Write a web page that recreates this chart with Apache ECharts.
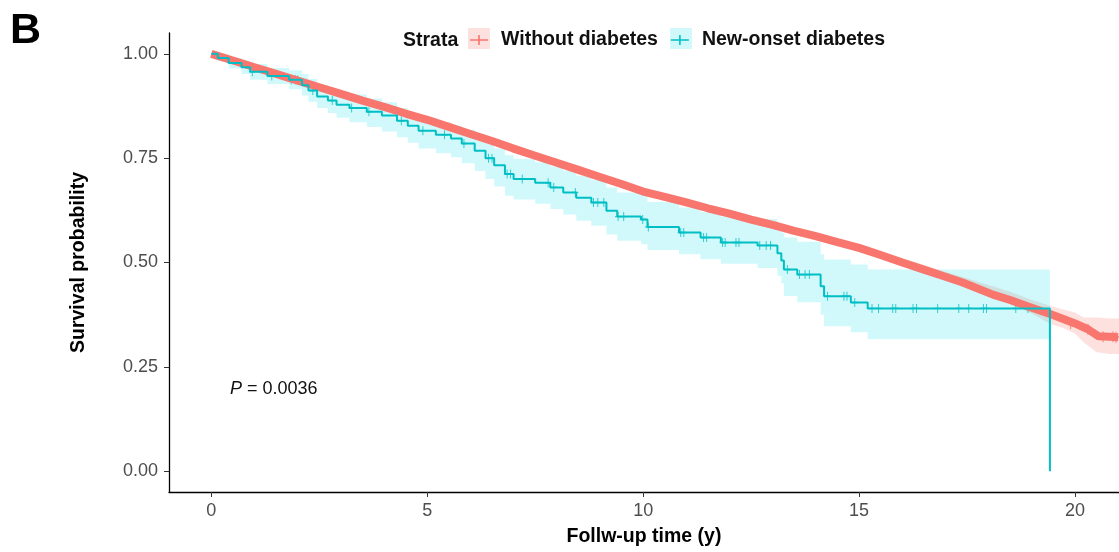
<!DOCTYPE html>
<html>
<head>
<meta charset="utf-8">
<script src="https://cdn.jsdelivr.net/npm/echarts@6/dist/echarts.min.js"></script>
<style>
  html, body { margin: 0; padding: 0; background: #fff; }
  #main { width: 1119px; height: 552px; }
</style>
</head>
<body>
<div id="main"></div>
<script>
// tick labels
const xTicks = [0, 5, 10, 15, 20];
const yTicks = [0, 0.25, 0.5, 0.75, 1];

// Without diabetes: survival curve
const redT = [0, 0.5, 1, 1.5, 2, 2.5, 3, 3.5, 4, 4.5, 5, 5.5, 6, 6.5, 7, 7.5, 8, 8.5, 9, 9.5, 10,
  10.5, 11, 11.5, 12, 12.5, 13, 13.5, 14, 14.5, 15, 15.5, 16, 16.5, 17, 17.4, 18.1, 18.5, 18.9,
  19.44, 19.7, 20.0, 20.3, 20.55, 20.8, 21.0];
const redS = [1.0, 0.984, 0.968, 0.952, 0.936, 0.920, 0.904, 0.888, 0.873, 0.857, 0.842, 0.825,
  0.808, 0.791, 0.773, 0.756, 0.739, 0.722, 0.705, 0.688, 0.670, 0.657, 0.644, 0.630, 0.617,
  0.603, 0.590, 0.576, 0.563, 0.549, 0.535, 0.518, 0.500, 0.483, 0.466, 0.452, 0.423, 0.410,
  0.395, 0.376, 0.366, 0.354, 0.340, 0.323, 0.322, 0.321];
// Without diabetes: confidence band
const redBandT = [0, 5, 10, 15, 17, 18, 18.5, 19, 19.44, 19.7, 20.0, 20.2, 20.5, 20.8, 21.02];
const redBandLo = [1.0, 0.835, 0.662, 0.526, 0.458, 0.420, 0.400, 0.378, 0.352, 0.344, 0.330, 0.309, 0.285, 0.281, 0.281];
const redBandHi = [1.0, 0.849, 0.678, 0.544, 0.478, 0.446, 0.430, 0.410, 0.396, 0.388, 0.380, 0.368, 0.368, 0.366, 0.366];
// Without diabetes: censor marks at the tail
const redCensT = [19.9, 20.3, 20.65, 20.88, 20.95];
const redCensS = [0.354, 0.340, 0.322, 0.322, 0.321];

// New-onset diabetes: KM steps
const tealT = [0, 0.15, 0.4, 0.7, 0.9, 1.3, 1.8, 2.1, 2.25, 2.45, 2.7, 2.9, 3.2, 3.6, 3.95, 4.3,
  4.55, 4.8, 5.2, 5.55, 5.8, 6.1, 6.35, 6.55, 6.8, 7.0, 7.5, 7.85, 8.15, 8.45, 8.8, 9.15, 9.4,
  9.95, 10.1, 10.83, 11.33, 11.8, 12.65, 13.11, 13.2, 13.26, 13.57, 14.11, 14.19, 14.81, 15.2, 19.42];
const tealS = [1.0, 0.990, 0.978, 0.968, 0.957, 0.947, 0.938, 0.925, 0.912, 0.898, 0.888, 0.878,
  0.870, 0.861, 0.852, 0.840, 0.828, 0.816, 0.806, 0.797, 0.785, 0.768, 0.750, 0.733, 0.712,
  0.700, 0.691, 0.680, 0.668, 0.655, 0.644, 0.624, 0.610, 0.603, 0.585, 0.572, 0.560, 0.548,
  0.541, 0.522, 0.505, 0.483, 0.471, 0.443, 0.419, 0.404, 0.390, 0.0];
// New-onset diabetes: confidence band (steps, ends at 19.42)
const tealBandT = [0, 0.15, 0.4, 0.7, 0.9, 1.3, 1.8, 2.1, 2.25, 2.45, 2.7, 2.9, 3.2, 3.6, 3.95, 4.3,
  4.55, 4.8, 5.2, 5.55, 5.8, 6.1, 6.35, 6.55, 6.8, 7.0, 7.5, 7.85, 8.15, 8.45, 8.8, 9.15, 9.4,
  9.95, 10.1, 10.83, 11.33, 11.8, 12.65, 13.11, 13.2, 13.26, 13.57, 14.11, 14.19, 14.81, 15.2, 19.42];
const tealBandLo = [1.0, 0.982, 0.965, 0.952, 0.938, 0.928, 0.915, 0.900, 0.885, 0.870, 0.858,
  0.847, 0.836, 0.825, 0.814, 0.800, 0.787, 0.773, 0.762, 0.752, 0.738, 0.719, 0.700, 0.682,
  0.660, 0.651, 0.641, 0.628, 0.615, 0.600, 0.588, 0.567, 0.552, 0.544, 0.530, 0.520, 0.508,
  0.497, 0.487, 0.468, 0.450, 0.420, 0.405, 0.375, 0.347, 0.333, 0.316, 0.316];
const tealBandHi = [1.0, 0.998, 0.990, 0.984, 0.976, 0.966, 0.961, 0.952, 0.940, 0.926, 0.918,
  0.909, 0.903, 0.893, 0.884, 0.870, 0.858, 0.847, 0.836, 0.828, 0.818, 0.804, 0.788, 0.774,
  0.757, 0.748, 0.740, 0.730, 0.720, 0.708, 0.698, 0.680, 0.668, 0.662, 0.645, 0.632, 0.621,
  0.610, 0.604, 0.587, 0.572, 0.560, 0.550, 0.520, 0.507, 0.495, 0.483, 0.483];
// New-onset diabetes: censor marks
const tealCensT = [0.95, 1.4, 1.85, 1.95, 2.0, 2.35, 2.8, 3.25, 3.65, 4.4, 4.9, 5.4, 5.85, 6.42,
  6.5, 6.85, 6.93, 7.2, 7.8, 7.93, 8.43, 8.85, 8.95, 9.09, 9.42, 9.55, 9.99, 10.12, 10.87, 10.94,
  11.4, 11.47, 11.84, 11.9, 12.15, 12.22, 12.7, 12.85, 12.95, 13.34, 13.62, 13.75, 13.85, 14.27,
  14.65, 14.72, 14.9, 15.3, 15.45, 15.78, 15.85, 16.25, 16.33, 16.82, 17.31, 17.54, 17.88, 17.95,
  18.63, 18.91];
const tealCensS = [0.957, 0.947, 0.938, 0.938, 0.938, 0.912, 0.888, 0.870, 0.861, 0.840, 0.816,
  0.806, 0.785, 0.750, 0.750, 0.712, 0.712, 0.700, 0.691, 0.680, 0.668, 0.644, 0.644, 0.644,
  0.610, 0.610, 0.603, 0.585, 0.572, 0.572, 0.560, 0.560, 0.548, 0.548, 0.548, 0.548, 0.541,
  0.541, 0.541, 0.483, 0.471, 0.471, 0.471, 0.419, 0.419, 0.419, 0.404, 0.390, 0.390, 0.390,
  0.390, 0.390, 0.390, 0.390, 0.390, 0.390, 0.390, 0.390, 0.390, 0.390];

const RED = '#F8766D';
const TEAL = '#00BFC4';
const FONT = 'Liberation Sans, Arial, Helvetica, sans-serif';
const CROSS = 'path://M0,4.2 H10 V5.8 H0 Z M4.2,0 H5.8 V10 H4.2 Z';

function zip(a, b) {
  return a.map((v, i) => [v, b[i]]);
}

function band(ts, lo, hi, fill, step) {
  const pts = ts.map((t, i) => [t, lo[i], hi[i]]);
  return {
    type: 'custom',
    silent: true,
    clip: true,
    data: pts,
    encode: { x: 0, y: [1, 2] },
    renderItem: function (params, api) {
      if (params.dataIndex !== 0) return null;
      let up = [], dn = [];
      for (let i = 0; i < pts.length; i++) {
        if (step && i > 0) {
          up.push(api.coord([pts[i][0], pts[i - 1][2]]));
          dn.push(api.coord([pts[i][0], pts[i - 1][1]]));
        }
        up.push(api.coord([pts[i][0], pts[i][2]]));
        dn.push(api.coord([pts[i][0], pts[i][1]]));
      }
      return {
        type: 'polygon',
        shape: { points: up.concat(dn.reverse()) },
        style: { fill: fill }
      };
    }
  };
}

var myChart = echarts.init(document.getElementById('main'));

var option = {
  backgroundColor: '#fff',
  animation: false,
  grid: { left: 169, right: 0, top: 33, bottom: 59 },
  legend: {
    left: 465,
    top: 25,
    z: 10,
    icon: 'path://M0,4.2 H18 V5.8 H0 Z M8.2,0 H9.8 V10 H8.2 Z',
    itemWidth: 18,
    itemHeight: 10,
    itemGap: 13,
    selectedMode: false,
    data: ['Without diabetes', 'New-onset diabetes'],
    textStyle: { fontFamily: FONT, fontSize: 19.5, fontWeight: 'bold', color: '#111', padding: [0, 0, 0, 8] }
  },
  graphic: [
    { type: 'text', left: 10, top: 10, style: { text: 'B', font: 'bold 43px ' + FONT, fill: '#000' } },
    { type: 'text', left: 403, top: 31, style: { text: 'Strata', font: 'bold 19.5px ' + FONT, fill: '#111' } },
    { type: 'rect', left: 468, top: 28, z: 1, shape: { width: 22, height: 21 }, style: { fill: 'rgba(248,118,109,0.22)' } },
    { type: 'rect', left: 670, top: 28, z: 1, shape: { width: 22, height: 21 }, style: { fill: 'rgba(0,220,235,0.18)' } },
    {
      type: 'text', left: 230, top: 380,
      style: {
        text: '{i|P} = 0.0036',
        font: '18px ' + FONT,
        fill: '#111',
        rich: { i: { fontStyle: 'italic', fontSize: 18, fontFamily: FONT, color: '#111' } }
      }
    }
  ],
  xAxis: {
    type: 'value',
    min: -0.98,
    max: 21.02,
    name: 'Follw-up time (y)',
    nameLocation: 'middle',
    nameGap: 35,
    nameTextStyle: { fontFamily: FONT, fontSize: 19.5, fontWeight: 'bold', color: '#000' },
    axisLine: { onZero: false, lineStyle: { color: '#000', width: 1.3 } },
    axisTick: { length: 5, customValues: xTicks, lineStyle: { color: '#333' } },
    axisLabel: { customValues: xTicks, margin: 10, fontFamily: FONT, fontSize: 18, color: '#4D4D4D' },
    splitLine: { show: false }
  },
  yAxis: {
    type: 'value',
    min: -0.05,
    max: 1.05,
    name: 'Survival probability',
    nameLocation: 'middle',
    nameGap: 80,
    nameTextStyle: { fontFamily: FONT, fontSize: 19.5, fontWeight: 'bold', color: '#000' },
    axisLine: { show: true, onZero: false, lineStyle: { color: '#000', width: 1.3 } },
    axisTick: { show: true, length: 5, customValues: yTicks, lineStyle: { color: '#333' } },
    axisLabel: {
      customValues: yTicks, margin: 11, fontFamily: FONT, fontSize: 18, color: '#4D4D4D',
      formatter: v => v.toFixed(2)
    },
    splitLine: { show: false }
  },
  series: [
    band(redBandT, redBandLo, redBandHi, 'rgba(248,118,109,0.22)', false),
    band(tealBandT, tealBandLo, tealBandHi, 'rgba(0,220,235,0.18)', true),
    {
      name: 'Without diabetes',
      type: 'line',
      data: zip(redT, redS),
      showSymbol: false,
      itemStyle: { color: RED },
      lineStyle: { color: RED, width: 8 }
    },
    {
      type: 'scatter',
      data: zip(redCensT, redCensS),
      symbol: CROSS,
      symbolSize: [7, 11],
      itemStyle: { color: RED },
      silent: true
    },
    {
      name: 'New-onset diabetes',
      type: 'line',
      step: 'end',
      data: zip(tealT, tealS),
      showSymbol: false,
      itemStyle: { color: TEAL },
      lineStyle: { color: TEAL, width: 2 }
    },
    {
      type: 'scatter',
      data: zip(tealCensT, tealCensS),
      symbol: CROSS,
      symbolSize: [6, 9],
      itemStyle: { color: TEAL },
      silent: true
    }
  ]
};

myChart.setOption(option);
</script>
</body>
</html>
